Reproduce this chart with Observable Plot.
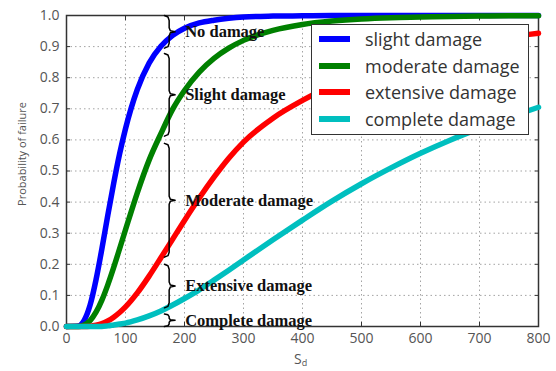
<!DOCTYPE html>
<html><head><meta charset="utf-8">
<script src="https://cdn.jsdelivr.net/npm/d3@7"></script>
<script src="https://cdn.jsdelivr.net/npm/@observablehq/plot@0.6"></script>
<style>
body{margin:0;background:#fff;}
#wrap{position:relative;width:556px;height:371px;font-family:"Open Sans",sans-serif;overflow:hidden;}
#legend{position:absolute;left:311px;top:24px;width:216px;height:109px;border:1.5px solid #333;background:#fff;}
.row{position:absolute;left:0;width:216px;height:26px;}
.sw{position:absolute;left:7px;top:10px;width:31px;height:6px;}
.lt{position:absolute;left:53px;top:0;line-height:26px;font-size:18px;color:#333;white-space:nowrap;}
#xl{position:absolute;left:294px;top:352px;font-size:14px;line-height:14px;color:#555;}
#xl sub{font-size:9px;line-height:0;vertical-align:-2px;}
</style></head>
<body><div id="wrap"></div>
<script>
// spectral displacement values (x) shared by all curves
const sd = [0,20,30,40,50,60,70,80,90,100,120,140,160,180,200,225,250,275,300,350,400,450,500,550,600,650,700,750,800];
const slight    = [0,0.002,0.02,0.069,0.15,0.25,0.358,0.461,0.555,0.636,0.762,0.847,0.901,0.936,0.959,0.976,0.985,0.991,0.995,0.998,0.999,1,1,1,1,1,1,1,1];
const moderate  = [0,0,0.005,0.019,0.046,0.085,0.134,0.19,0.25,0.311,0.43,0.535,0.62,0.699,0.759,0.818,0.862,0.895,0.92,0.952,0.971,0.982,0.989,0.993,0.995,0.997,0.998,0.999,0.999];
const extensive = [0,0,0,0.001,0.004,0.009,0.018,0.03,0.045,0.063,0.108,0.162,0.221,0.281,0.341,0.413,0.48,0.541,0.593,0.67,0.727,0.775,0.816,0.85,0.877,0.899,0.917,0.931,0.943];
const complete  = [0,0,0,0,0,0,0.002,0.005,0.008,0.011,0.021,0.034,0.05,0.069,0.09,0.118,0.149,0.181,0.214,0.279,0.342,0.403,0.459,0.51,0.557,0.599,0.637,0.672,0.705];

const seriesNames = ["slight damage","moderate damage","extensive damage","complete damage"];
const seriesColors = ["#0000ff","#008000","#ff0000","#00bfbf"];
const seriesValues = [slight, moderate, extensive, complete];

const xTicks = [0,100,200,300,400,500,600,700,800];
const yTicks = [0,0.1,0.2,0.3,0.4,0.5,0.6,0.7,0.8,0.9,1.0];

// damage-state braces
const stateNames  = ["No damage","Slight damage","Moderate damage","Extensive damage","Complete damage"];
const stateTop    = [1.0, 0.878, 0.589, 0.2, 0.04];
const stateBottom = [0.895, 0.612, 0.223, 0.06, 0.0];
const braceX = 174;

const rows = seriesNames.flatMap((name, i) => sd.map((x, j) => ({x, p: seriesValues[i][j], name})));

const states = stateNames.map((name, i) => ({name, top: stateTop[i], bot: stateBottom[i], mid: (stateTop[i] + stateBottom[i]) / 2}));
const bracePts = states.flatMap(s => {
  const d = Math.min(0.016, (s.top - s.bot) / 5);
  const x = braceX, hx = 8, tx = 10;
  return [
    [x - hx, s.top], [x - 2, s.top - d * 0.3], [x, s.top - d],
    [x, s.mid + d * 0.8], [x + 2, s.mid + d * 0.2], [x + tx, s.mid],
    [x + 2, s.mid - d * 0.2], [x, s.mid - d * 0.8],
    [x, s.bot + d], [x - 2, s.bot + d * 0.3], [x - hx, s.bot]
  ].map(([bx, by]) => ({bx, by, name: s.name}));
});

const chart = Plot.plot({
  width: 556, height: 371,
  marginTop: 15, marginRight: 18, marginBottom: 45, marginLeft: 66,
  style: {fontFamily: "Open Sans", fontSize: "14px", background: "#fff"},
  x: {domain: [0, 800]},
  y: {domain: [0, 1]},
  color: {domain: seriesNames, range: seriesColors},
  marks: [
    Plot.gridX(xTicks, {stroke: "#999", strokeOpacity: 0.9, strokeDasharray: "1.5,3"}),
    Plot.gridY(yTicks, {stroke: "#999", strokeOpacity: 0.9, strokeDasharray: "1.5,3"}),
    Plot.frame({stroke: "#333", strokeWidth: 1.5}),
    Plot.axisX(xTicks, {anchor: "bottom", tickSize: 0, tickPadding: 7, fontSize: 14, fill: "#555", label: null}),
    Plot.axisY(yTicks, {anchor: "left", tickSize: 0, tickPadding: 7, fontSize: 14, fill: "#555", tickFormat: d3.format(".1f"), label: null}),
    Plot.axisX(xTicks, {anchor: "bottom", tickSize: -4, stroke: "#333", tickFormat: () => "", label: null}),
    Plot.axisX(xTicks, {anchor: "top", tickSize: -4, stroke: "#333", tickFormat: () => "", label: null}),
    Plot.axisY(yTicks, {anchor: "left", tickSize: -4, stroke: "#333", tickFormat: () => "", label: null}),
    Plot.axisY(yTicks, {anchor: "right", tickSize: -4, stroke: "#333", tickFormat: () => "", label: null}),
    Plot.text(["Probability of failure"], {frameAnchor: "left", textAnchor: "middle", dx: -44, dy: -17, rotate: -90, fontSize: 11, fill: "#555"}),
    Plot.line(rows, {x: "x", y: "p", z: "name", stroke: "name", strokeWidth: 5.5, curve: "monotone-x"}),
    Plot.line(bracePts, {x: "bx", y: "by", z: "name", stroke: "#000", strokeWidth: 1.5, curve: "linear"}),
    Plot.text(states, {x: () => braceX, y: "mid", text: "name", dx: 16, textAnchor: "start", fontFamily: "Liberation Serif", fontWeight: "bold", fontSize: 16.5, fill: "#111"})
  ]
});

const wrap = document.getElementById("wrap");
wrap.appendChild(chart);

const legend = document.createElement("div");
legend.id = "legend";
seriesNames.forEach((name, i) => {
  const row = document.createElement("div");
  row.className = "row";
  row.style.top = (1.3 + i * 26.5) + "px";
  const sw = document.createElement("div");
  sw.className = "sw";
  sw.style.background = seriesColors[i];
  const lt = document.createElement("div");
  lt.className = "lt";
  lt.textContent = name;
  row.appendChild(sw); row.appendChild(lt);
  legend.appendChild(row);
});
wrap.appendChild(legend);

const xl = document.createElement("div");
xl.id = "xl";
xl.innerHTML = "S<sub>d</sub>";
wrap.appendChild(xl);
</script>
</body></html>
